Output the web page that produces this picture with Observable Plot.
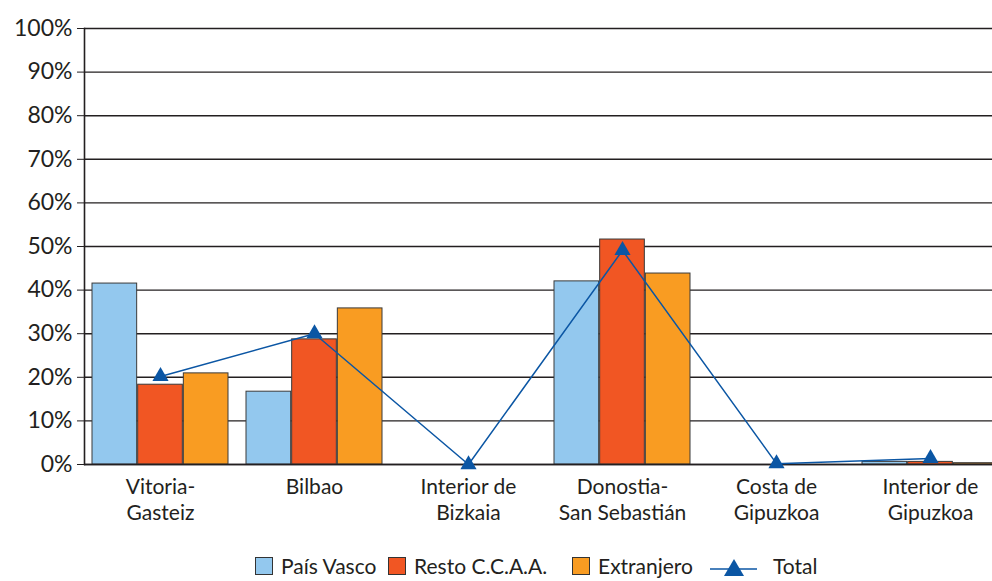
<!DOCTYPE html>
<html>
<head>
<meta charset="utf-8">
<script src="https://cdn.jsdelivr.net/npm/d3@7"></script>
<script src="https://cdn.jsdelivr.net/npm/@observablehq/plot@0.6"></script>
<style>
  body { margin: 0; background: #fff; font-family: Lato, "Noto Sans", sans-serif; }
  #wrap { position: relative; width: 992px; height: 581px; overflow: hidden; }
  #legend { position: absolute; left: 0; top: 0; width: 992px; height: 581px; font-size: 21px; color: #231f20; white-space: nowrap; pointer-events: none; }
  .sw { width: 18px; height: 18px; border: 1px solid #333; box-sizing: border-box; margin-right: 8px; }
  .item { position: absolute; top: 553px; display: flex; align-items: center; height: 26px; line-height: 24px; }
</style>
</head>
<body>
<div id="wrap"><div id="chart"></div><div id="legend"></div></div>
<script>
const categories = ["Vitoria-Gasteiz", "Bilbao", "Interior de Bizkaia", "Donostia-San Sebastián", "Costa de Gipuzkoa", "Interior de Gipuzkoa"];
const tickLabels = ["Vitoria-\nGasteiz", "Bilbao", "Interior de\nBizkaia", "Donostia-\nSan Sebastián", "Costa de\nGipuzkoa", "Interior de\nGipuzkoa"];
const seriesNames = ["País Vasco", "Resto C.C.A.A.", "Extranjero", "Total"];
const paisVasco = [41.5, 16.7, 0, 42.0, 0, 0.6];
const restoCCAA = [18.3, 28.7, 0, 51.6, 0, 0.6];
const extranjero = [20.9, 35.8, 0, 43.8, 0, 0.3];
const total = [20.2, 30.0, 0, 49.1, 0.2, 1.4];
const yTicks = [0, 10, 20, 30, 40, 50, 60, 70, 80, 90, 100];

const colors = ["#93c8ee", "#f15623", "#f99c22", "#0b56a4"];
const legendLeft = [255, 388, 572, 710];

const rows = (vals) => categories.map((c, i) => ({cat: c, v: vals[i]}));
const bw = 137, third = bw / 3;
const barOpts = (i) => ({
  x: "cat", y: "v", fill: colors[i], stroke: "#3a3a3a", strokeWidth: 1,
  insetLeft: third * i, insetRight: third * (2 - i)
});

const chart = Plot.plot({
  width: 992, height: 545,
  marginLeft: 84, marginRight: 0, marginTop: 28, marginBottom: 81,
  style: { fontFamily: "Lato, 'Noto Sans', sans-serif", color: "#231f20", background: "#fff", overflow: "visible" },
  x: { domain: categories, range: [80.6, 1009.4], paddingInner: 0.115, paddingOuter: 0.0575 },
  y: { domain: [0, 100] },
  marks: [
    Plot.ruleY(yTicks, { stroke: "#231f20", strokeWidth: 1.4 }),
    Plot.barY(rows(paisVasco), barOpts(0)),
    Plot.barY(rows(restoCCAA), barOpts(1)),
    Plot.barY(rows(extranjero), barOpts(2)),
    Plot.ruleY([0], { stroke: "#231f20", strokeWidth: 1.6 }),
    Plot.line(rows(total), { x: "cat", y: "v", stroke: colors[3], strokeWidth: 1.5 }),
    Plot.dot(rows(total), { x: "cat", y: "v", symbol: "triangle", r: 6, fill: colors[3], stroke: "none" }),
    Plot.frame({ anchor: "left", stroke: "#231f20", strokeWidth: 1.6 }),
    Plot.axisY({ ticks: yTicks, tickFormat: d => d + "%", tickSize: 7, tickPadding: 5, fontSize: 23, label: null, stroke: "#231f20" }),
    Plot.axisX({ tickFormat: (d) => tickLabels[categories.indexOf(d)], tickSize: 0, tickPadding: 11, fontSize: 21, lineHeight: 1.24, label: null })
  ]
});
document.getElementById("chart").appendChild(chart);

const legend = document.getElementById("legend");
seriesNames.forEach((name, i) => {
  const item = document.createElement("div");
  item.className = "item";
  item.style.left = legendLeft[i] + "px";
  if (i < 3) {
    const sw = document.createElement("div");
    sw.className = "sw";
    sw.style.background = colors[i];
    item.appendChild(sw);
  } else {
    const s = document.createElementNS("http://www.w3.org/2000/svg", "svg");
    s.setAttribute("width", 48); s.setAttribute("height", 22);
    s.style.marginRight = "15px";
    s.innerHTML = `<line x1="0" x2="47" y1="14" y2="14" stroke="${colors[3]}" stroke-width="1.5"/><polygon points="24,4 34,21 14,21" fill="${colors[3]}"/>`;
    item.appendChild(s);
  }
  const t = document.createElement("span");
  t.textContent = name;
  item.appendChild(t);
  legend.appendChild(item);
});
</script>
</body>
</html>
